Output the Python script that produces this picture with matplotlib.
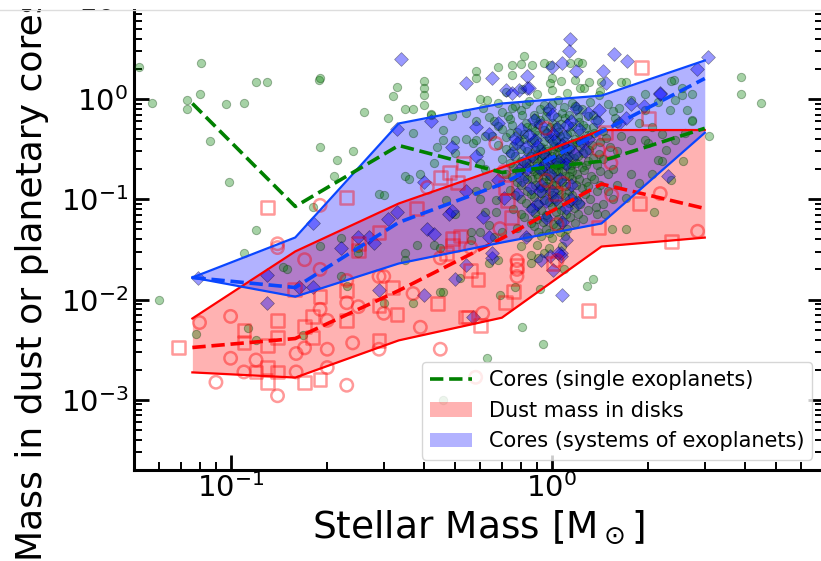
import matplotlib
matplotlib.use('Agg')
import matplotlib.pyplot as plt
from matplotlib.patches import Rectangle
from matplotlib.lines import Line2D

# Binned stellar mass (Msun) and the mass percentiles per bin
mass_bins = [0.076, 0.159, 0.334, 0.70, 1.43, 3.0]
dust_low = [0.00188, 0.00167, 0.00392, 0.0066, 0.0338, 0.0415]
dust_med = [0.00333, 0.00409, 0.0123, 0.0408, 0.142, 0.081]
dust_high = [0.00648, 0.0302, 0.0908, 0.207, 0.49, 0.49]
sys_low = [0.0166, 0.0107, 0.0229, 0.0371, 0.0574, 0.46]
sys_med = [0.0166, 0.0132, 0.0588, 0.142, 0.47, 1.60]
sys_high = [0.0166, 0.0416, 0.570, 0.902, 1.08, 2.42]
single_med = [0.902, 0.0848, 0.344, 0.185, 0.24, 0.51]

# Cores of single exoplanets (stellar mass, core mass)
single_planets = [
    (0.052, 2.06), (0.057, 0.92), (0.073, 0.97), (0.073, 0.79), (0.080, 1.13), (0.081, 2.26),
    (0.086, 0.38), (0.097, 0.90), (0.110, 0.92), (0.12, 1.46), (0.13, 1.46), (0.099, 0.15),
    (0.188, 1.56), (0.19, 1.6), (0.19, 0.33), (0.214, 0.244), (0.21, 0.17), (0.24, 0.30),
    (0.26, 0.75), (0.31, 0.64), (0.32, 1.08), (0.33, 1.33), (0.35, 0.80), (0.37, 0.79),
    (0.35, 0.17), (0.29, 0.114), (0.30, 0.11), (0.18, 0.083), (0.12, 0.049), (0.11, 0.029),
    (0.22, 0.041), (0.19, 0.034), (0.35, 0.029), (0.35, 0.025), (0.38, 0.035), (0.146, 0.021),
    (0.15, 0.020), (0.22, 0.017), (0.37, 0.46), (0.25, 0.033), (0.25, 0.029),
    (0.06, 0.0100), (0.078, 0.0045), (0.113, 0.0052), (0.12, 0.0040), (0.168, 0.0044),
    (0.30, 0.0093), (0.37, 0.0093), (0.23, 0.0138),
    (3.9, 1.67), (3.9, 1.13), (4.5, 0.92), (3.1, 0.43), (2.4, 1.56), (0.82, 2.7), (0.68, 2.06),
    (0.58, 1.9), (0.58, 1.6), (0.40, 1.5), (0.40, 1.3), (0.40, 1.1), (0.40, 0.88), (0.42, 0.70),
    (0.60, 1.0), (0.63, 0.97), (0.75, 2.2), (0.75, 1.75), (0.80, 2.25), (0.87, 2.2), (0.95, 2.3),
    (0.99, 2.2), (1.14, 2.3), (1.21, 2.35), (1.24, 2.3), (1.0, 1.6), (0.99, 1.43), (1.07, 1.5),
    (1.18, 1.56), (1.23, 1.3), (1.31, 1.46), (1.43, 1.46), (1.42, 1.2), (1.65, 1.46), (1.7, 1.46),
    (1.96, 1.13), (2.14, 0.94), (2.54, 1.1), (2.73, 0.62), (2.34, 0.77), (2.43, 0.97), (2.65, 0.77),
    (2.0, 0.36), (2.2, 0.24), (2.56, 0.24), (2.08, 0.074), (1.71, 0.051), (1.54, 0.051),
    (1.35, 0.016), (1.38, 0.071),
    (1.29, 0.0138), (0.81, 0.0053), (0.94, 0.0036), (0.63, 0.0026), (0.46, 0.0010), (0.46, 0.0118),
    (0.69, 0.011), (0.77, 0.0132), (0.92, 0.0127), (0.45, 0.012), (0.64, 0.023), (0.68, 0.025),
    (0.52, 0.0166), (0.86, 0.023), (0.91, 0.026), (1.09, 0.0204),
    (0.46, 0.39), (0.44, 0.33), (0.50, 0.29), (0.54, 0.40), (0.57, 0.36), (0.62, 0.43), (0.65, 0.43),
    (0.60, 0.23), (0.36, 0.16), (0.43, 0.23), (0.47, 0.098), (0.58, 0.122), (0.67, 0.098),
    (0.67, 0.074), (0.64, 0.055), (0.56, 0.047), (0.60, 0.047), (0.70, 0.047), (0.43, 0.035),
    (0.56, 0.039), (0.66, 0.042), (0.49, 0.67), (0.54, 0.73), (0.42, 0.71), (0.46, 0.49),
    (0.50, 0.39), (0.58, 0.61), (0.61, 0.82), (0.64, 0.66), (0.68, 0.54), (0.58, 0.39), (0.39, 0.18),
    (0.50, 0.072), (0.45, 0.033),
    (2.36, 1.5), (2.54, 1.3), (2.73, 1.13), (2.73, 0.61), (2.61, 0.46), (2.43, 0.39), (2.05, 0.52),
    (2.2, 0.45), (2.27, 0.31), (1.96, 0.39), (2.15, 0.244), (2.05, 0.18), (2.36, 0.154),
    (1.77, 0.18), (1.87, 0.144), (1.70, 0.104), (1.77, 0.39), (1.87, 0.57), (1.58, 0.65),
    (1.62, 0.82), (1.77, 0.97), (1.96, 0.77), (1.37, 0.083), (1.47, 0.072),
    # dense group around one solar mass
    (0.72, 1.18), (0.81, 1.25), (0.9, 1.12), (1.0, 1.22), (1.12, 1.15), (1.26, 1.28), (1.4, 1.1),
    (0.68, 0.92), (0.77, 0.86), (0.85, 0.95), (0.95, 0.88), (1.05, 0.97), (1.18, 0.85), (1.32, 0.93),
    (1.5, 0.9), (0.7, 0.74), (0.8, 0.78), (0.88, 0.7), (0.97, 0.76), (1.08, 0.72), (1.2, 0.79),
    (1.35, 0.7), (1.55, 0.76), (0.66, 0.6), (0.74, 0.63), (0.83, 0.57), (0.92, 0.62), (1.0, 0.58),
    (1.1, 0.64), (1.22, 0.59), (1.38, 0.62), (1.6, 0.58), (0.7, 0.5), (0.78, 0.47), (0.87, 0.52),
    (0.95, 0.49), (1.03, 0.53), (1.14, 0.47), (1.28, 0.51), (1.45, 0.48), (0.72, 0.42), (0.82, 0.4),
    (0.9, 0.44), (0.98, 0.41), (1.06, 0.43), (1.18, 0.4), (1.3, 0.44), (1.48, 0.41), (1.65, 0.43),
    (0.68, 0.35), (0.76, 0.34), (0.86, 0.37), (0.93, 0.33), (1.01, 0.36), (1.1, 0.34), (1.2, 0.37),
    (1.34, 0.35), (1.52, 0.33), (0.74, 0.29), (0.84, 0.3), (0.9, 0.28), (0.97, 0.3), (1.04, 0.28),
    (1.12, 0.3), (1.25, 0.29), (1.4, 0.28), (1.6, 0.3), (0.7, 0.25), (0.8, 0.24), (0.88, 0.26),
    (0.95, 0.24), (1.02, 0.25), (1.08, 0.23), (1.17, 0.26), (1.3, 0.24), (1.45, 0.25), (0.76, 0.21),
    (0.85, 0.22), (0.92, 0.2), (0.99, 0.21), (1.06, 0.22), (1.14, 0.2), (1.24, 0.21), (1.38, 0.22),
    (1.55, 0.2), (0.72, 0.18), (0.82, 0.17), (0.9, 0.18), (0.96, 0.17), (1.03, 0.19), (1.1, 0.17),
    (1.2, 0.18), (1.33, 0.17), (1.5, 0.18), (0.78, 0.15), (0.87, 0.16), (0.94, 0.15), (1.0, 0.14),
    (1.08, 0.15), (1.16, 0.16), (1.28, 0.15), (1.42, 0.14), (0.74, 0.125), (0.84, 0.12), (0.92, 0.13),
    (0.98, 0.12), (1.05, 0.125), (1.13, 0.12), (1.24, 0.13), (1.38, 0.12), (0.8, 0.1), (0.88, 0.105),
    (0.95, 0.098), (1.02, 0.1), (1.1, 0.105), (1.2, 0.098), (1.32, 0.1), (0.76, 0.08), (0.86, 0.082),
    (0.93, 0.078), (1.0, 0.083), (1.07, 0.079), (1.17, 0.081), (1.3, 0.078), (0.82, 0.066),
    (0.9, 0.063), (0.97, 0.067), (1.05, 0.064), (1.14, 0.066), (1.25, 0.063), (0.78, 0.052),
    (0.88, 0.054), (0.96, 0.051), (1.03, 0.053), (1.12, 0.05), (0.84, 0.042), (0.93, 0.043),
    (1.0, 0.041), (1.1, 0.043), (0.8, 0.034), (0.9, 0.035), (0.98, 0.033), (1.08, 0.034),
    (0.86, 0.028), (0.95, 0.029), (0.9, 0.23), (1.0, 0.3), (1.05, 0.19), (0.95, 0.27), (1.1, 0.26),
    (0.98, 0.16), (1.04, 0.22), (0.92, 0.32), (1.15, 0.22), (0.88, 0.19), (1.02, 0.34), (1.07, 0.31),
    (0.75, 0.82), (0.83, 0.9), (0.92, 0.8), (1.0, 0.9), (1.09, 0.83), (1.16, 0.92), (1.24, 0.8),
    (0.73, 0.67), (0.81, 0.7), (0.89, 0.65), (0.96, 0.68), (1.04, 0.66), (1.13, 0.7), (1.21, 0.66),
    (1.3, 0.68), (0.75, 0.55), (0.84, 0.53), (0.91, 0.56), (0.99, 0.52), (1.07, 0.56), (1.16, 0.54),
    (1.25, 0.55), (1.35, 0.53), (0.74, 0.46), (0.82, 0.45), (0.89, 0.48), (0.97, 0.46), (1.05, 0.47),
    (1.12, 0.45), (1.22, 0.46), (1.36, 0.46), (0.79, 0.38), (0.88, 0.39), (0.95, 0.38), (1.03, 0.39),
    (1.09, 0.38), (1.16, 0.36), (1.26, 0.39), (1.42, 0.37), (0.72, 0.32), (0.8, 0.32), (0.89, 0.31),
    (0.96, 0.32), (1.05, 0.33), (1.14, 0.32), (1.23, 0.33), (1.31, 0.31), (0.77, 0.27), (0.86, 0.27),
    (0.93, 0.26), (1.0, 0.27), (1.06, 0.26), (1.13, 0.27), (1.21, 0.27), (1.35, 0.26), (0.74, 0.23),
    (0.83, 0.23), (0.9, 0.215), (0.97, 0.23), (1.03, 0.235), (1.1, 0.22), (1.19, 0.23), (1.28, 0.22),
    (0.79, 0.19), (0.87, 0.2), (0.94, 0.19), (1.01, 0.2), (1.08, 0.19), (1.16, 0.19), (1.26, 0.195),
    (1.42, 0.19), (0.75, 0.165), (0.84, 0.16), (0.91, 0.165), (0.99, 0.17), (1.05, 0.16),
    (1.13, 0.17), (1.22, 0.16), (1.36, 0.16), (0.8, 0.14), (0.89, 0.14), (0.96, 0.135), (1.03, 0.14),
    (1.11, 0.135), (1.19, 0.14), (1.3, 0.135), (0.77, 0.11), (0.86, 0.112), (0.93, 0.115),
    (1.0, 0.11), (1.07, 0.113), (1.16, 0.11), (1.27, 0.112), (0.83, 0.092), (0.91, 0.09),
    (0.98, 0.093), (1.05, 0.09), (1.13, 0.092), (1.23, 0.09), (0.8, 0.072), (0.89, 0.073),
    (0.96, 0.07), (1.03, 0.074), (1.11, 0.071), (1.21, 0.072), (0.86, 0.058), (0.94, 0.059),
    (1.01, 0.057), (1.08, 0.06), (1.18, 0.058), (0.91, 0.047), (0.98, 0.046), (1.06, 0.047),
    (0.6, 0.3), (0.62, 0.2), (0.63, 0.14), (0.6, 0.1), (0.62, 0.075), (1.5, 0.12), (1.55, 0.1),
    (1.6, 0.14), (1.45, 0.09),
]

# Cores of planets in multi-planet systems
system_planets = [
    (0.34, 2.48), (0.33, 0.50), (0.18, 0.058), (0.22, 0.033), (0.25, 0.042), (0.27, 0.042),
    (0.28, 0.037), (0.31, 0.063), (0.33, 0.075), (0.13, 0.0177), (0.079, 0.0166), (0.13, 0.0092),
    (0.163, 0.0132), (0.18, 0.0132), (0.29, 0.0126),
    (1.14, 4.0), (1.13, 3.0), (1.57, 2.8), (1.72, 2.4), (3.08, 2.6), (2.83, 2.0), (1.45, 1.9),
    (1.19, 1.9), (1.08, 2.3), (1.0, 2.06), (0.84, 1.7), (0.65, 1.6), (0.54, 1.43), (0.72, 1.24),
    (0.79, 1.24), (0.84, 1.3), (1.48, 1.43), (2.18, 1.16), (0.42, 0.61), (0.58, 0.52), (0.58, 0.27),
    (0.49, 0.33), (0.40, 0.147), (2.31, 0.172), (0.61, 0.066), (0.48, 0.072), (0.41, 0.051),
    (0.43, 0.045), (0.65, 0.026), (0.54, 0.022), (0.99, 0.0275), (1.07, 0.0275), (1.08, 0.011),
    (0.40, 0.0112), (0.50, 0.016), (0.57, 0.0067), (0.65, 0.029), (0.93, 0.025), (1.07, 0.029),
    (1.01, 0.0195), (0.54, 0.12), (0.49, 0.077),
    (0.75, 1.16), (0.85, 1.30), (1.19, 0.82), (1.04, 0.51), (1.01, 0.45), (1.09, 0.43), (0.89, 0.39),
    (0.83, 0.33), (0.75, 0.29), (0.77, 0.41), (0.94, 0.29), (0.79, 0.194), (0.84, 0.20), (0.92, 0.20),
    (0.98, 0.244), (1.11, 0.26), (1.13, 0.33), (1.24, 0.37), (1.30, 0.40), (1.38, 0.61), (1.40, 0.77),
    (1.62, 0.57), (1.70, 0.65), (1.77, 0.90), (1.94, 0.86), (2.18, 1.13), (0.78, 0.114), (0.81, 0.154),
    (0.96, 0.097), (1.11, 0.081), (1.21, 0.091), (1.0, 0.122), (1.11, 0.227), (0.86, 0.131),
    (0.68, 0.154), (0.71, 0.104), (1.11, 0.039), (0.83, 0.042), (0.64, 0.042), (1.05, 0.029),
    (1.30, 0.72), (0.98, 0.80), (0.64, 0.45), (0.68, 0.58),
    (0.88, 0.62), (0.93, 0.55), (0.97, 0.45), (1.02, 0.38), (0.9, 0.34), (0.95, 0.22), (1.05, 0.24),
    (1.08, 0.35), (0.87, 0.27), (0.82, 0.24), (0.99, 0.18), (1.06, 0.16), (0.93, 0.14), (1.15, 0.14),
    (1.03, 0.1), (0.9, 0.09), (1.18, 0.28), (1.22, 0.5), (1.15, 0.6), (1.0, 0.7), (0.8, 0.5),
    (0.85, 0.44), (0.78, 0.36), (0.92, 0.12), (1.12, 0.55), (1.27, 0.3), (0.96, 0.065), (1.08, 0.06),
    (1.15, 0.1), (0.87, 0.08),
]

# Dust masses of disks, two surveys (squares and circles)
disks_a = [
    (0.13, 0.083), (0.23, 0.104), (0.29, 0.047), (0.25, 0.036), (0.25, 0.031), (0.069, 0.0033),
    (0.14, 0.0062), (0.11, 0.0049), (0.11, 0.0037), (0.14, 0.0042), (0.13, 0.0035), (0.17, 0.0054),
    (0.18, 0.0068), (0.18, 0.0042), (0.19, 0.0107), (0.158, 0.0126), (0.23, 0.0123), (0.23, 0.0062),
    (0.29, 0.0087), (0.32, 0.0131), (0.33, 0.0071), (0.29, 0.0039), (0.13, 0.0021), (0.12, 0.0019),
    (0.14, 0.0019), (0.13, 0.0015), (0.17, 0.0015), (0.19, 0.0016),
    (0.45, 0.165), (0.48, 0.185), (0.53, 0.23), (0.51, 0.147), (0.38, 0.081), (0.49, 0.041),
    (0.49, 0.035), (0.52, 0.043), (0.47, 0.029),
    (0.56, 0.0195), (0.59, 0.016), (0.44, 0.0092), (0.54, 0.0067), (0.55, 0.0067), (0.60, 0.0055),
    (0.72, 0.0093), (0.76, 0.012), (0.78, 0.022), (1.01, 0.023), (1.30, 0.0078), (1.40, 0.052),
    (1.88, 0.091), (2.36, 0.038), (1.91, 2.06), (2.0, 0.64), (1.47, 0.46), (1.03, 0.114),
    (0.72, 0.132), (0.73, 0.097), (0.75, 0.066),
]
disks_b = [
    (0.14, 0.036), (0.14, 0.033), (0.17, 0.025), (0.19, 0.087), (0.19, 0.020), (0.08, 0.0059),
    (0.10, 0.0068), (0.10, 0.0026), (0.12, 0.0025), (0.11, 0.0019), (0.16, 0.0029), (0.17, 0.0033),
    (0.19, 0.0080), (0.20, 0.0062), (0.20, 0.0032), (0.20, 0.0021), (0.16, 0.0019), (0.23, 0.0155),
    (0.23, 0.0093), (0.25, 0.0085), (0.24, 0.0037), (0.29, 0.017), (0.30, 0.017), (0.30, 0.0073),
    (0.29, 0.0032), (0.09, 0.0015), (0.14, 0.0011), (0.23, 0.0014),
    (0.41, 0.131), (0.67, 0.36), (0.71, 0.19), (0.56, 0.033), (0.45, 0.026), (0.69, 0.051),
    (0.37, 0.0115), (0.61, 0.0073), (0.39, 0.0053), (0.45, 0.0032), (0.78, 0.0245), (0.78, 0.020),
    (0.78, 0.017), (1.04, 0.0245), (1.54, 0.11), (2.18, 0.114), (2.85, 0.048), (0.58, 0.00168),
    (0.96, 0.51), (1.40, 0.31), (1.53, 0.29), (1.53, 0.23), (0.96, 0.154), (1.09, 0.144),
    (1.04, 0.056),
]

line_blue = '#0a46ff'

fig = plt.figure(figsize=(8.21, 5.61), dpi=100)
# axes reach past the right and top edges of the picture (cropped figure)
ax = fig.add_axes([0.1632, 0.1622, 0.8391, 0.894])

red_fill = ax.fill_between(mass_bins, dust_low, dust_high, color='r', alpha=0.3, lw=0,
                           label='Dust mass in disks')
blue_fill = ax.fill_between(mass_bins, sys_low, sys_high, color='b', alpha=0.3, lw=0,
                            label='Cores (systems of exoplanets)')

sx, sy = zip(*single_planets)
ax.scatter(sx, sy, s=36, c='g', alpha=0.35, edgecolors='#003300', linewidths=0.7, zorder=3)
px, py = zip(*system_planets)
ax.scatter(px, py, s=50, marker='D', c='b', alpha=0.4, edgecolors='k', linewidths=0.5, zorder=3)
ax_, ay_ = zip(*disks_a)
ax.scatter(ax_, ay_, s=85, marker='s', facecolors='none', edgecolors='r', alpha=0.4,
           linewidths=1.8, zorder=3)
bx, by = zip(*disks_b)
ax.scatter(bx, by, s=80, marker='o', facecolors='none', edgecolors='r', alpha=0.4,
           linewidths=1.8, zorder=3)

ax.plot(mass_bins, dust_low, color='r', lw=1.6, zorder=4)
ax.plot(mass_bins, dust_high, color='r', lw=1.6, zorder=4)
ax.plot(mass_bins, dust_med, color='r', lw=2.6, ls='--', zorder=4)
ax.plot(mass_bins, sys_low, color=line_blue, lw=1.6, zorder=4)
ax.plot(mass_bins, sys_high, color=line_blue, lw=1.6, zorder=4)
ax.plot(mass_bins, sys_med, color=line_blue, lw=2.6, ls='--', zorder=4)
single_line, = ax.plot(mass_bins, single_med, color='g', lw=2.6, ls='--', zorder=4,
                       label='Cores (single exoplanets)')

ax.set_xscale('log')
ax.set_yscale('log')
ax.set_xlim(0.05, 7)
ax.set_ylim(2e-4, 20)

for side in ax.spines.values():
    side.set_linewidth(2.2)
ax.tick_params(which='both', direction='in', top=True, right=True)
ax.tick_params(which='major', length=11, width=2, labelsize=21)
ax.tick_params(which='minor', length=6, width=1.4)
ax.tick_params(axis='x', pad=2)
ax.tick_params(axis='y', pad=4)

ax.set_xlabel(r'Stellar Mass [M$_\odot$]', fontsize=27, labelpad=4)
ax.set_ylabel('Mass in dust or planetary cores', fontsize=26, loc='bottom')
ax.yaxis.set_label_coords(-0.124, -0.181)

ax.legend(handles=[single_line, red_fill, blue_fill], loc='lower right', fontsize=15)

# crop edge at the top of the picture
fig.add_artist(Rectangle((0, 1 - 9 / 561), 1, 9 / 561, transform=fig.transFigure,
                         facecolor='white', edgecolor='none', zorder=100))
fig.add_artist(Line2D([0, 1], [1 - 9.5 / 561] * 2, transform=fig.transFigure,
                      color='#dddddd', lw=1, zorder=101))

fig.savefig('out.png', dpi=100)
